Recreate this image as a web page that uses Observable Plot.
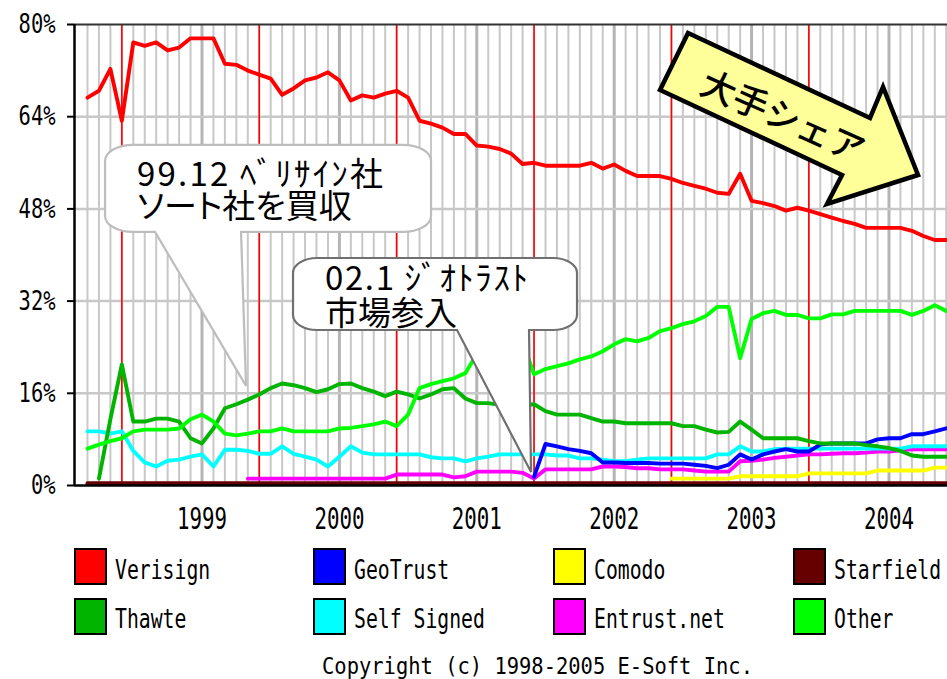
<!DOCTYPE html>
<html><head><meta charset="utf-8">
<script src="https://cdn.jsdelivr.net/npm/d3@7"></script>
<script src="https://cdn.jsdelivr.net/npm/@observablehq/plot@0.6"></script>
<style>
html,body{margin:0;padding:0;background:#fff;}
#wrap{width:947px;height:679px;overflow:hidden;background:#fff;}
#wrap svg{display:block;}
</style></head>
<body><div id="wrap"></div>
<script>
// ---- categories / labels ----
const names = ["Verisign","Thawte","GeoTrust","Self Signed","Comodo","Entrust.net","Starfield","Other"];
const colors = ["#ff0000","#00b400","#0000ff","#00ffff","#ffff00","#ff00ff","#660000","#00ff00"];
const months = d3.range(76); // monthly samples, index 0 = Mar 1998
const yearTicks = [10,22,34,46,58,70];
const yearLabels = ["1999","2000","2001","2002","2003","2004"];
const eventLines = [3,15,27,39,51,63];
const yTicks = [0,16,32,48,64,80];
const yGrid = [16,32,48,64];
const copyright = "Copyright (c) 1998-2005 E-Soft Inc.";

// ---- series values (% share) ----
const verisign = [67.3,68.5,72.3,63.3,76.9,76.3,76.9,75.5,76.0,77.6,
 77.6,77.6,73.2,73.0,72.0,71.3,70.6,67.8,68.9,70.3,
 70.8,71.7,70.3,66.8,67.7,67.3,68.0,68.5,67.3,63.3,
 62.8,62.1,61.0,61.0,59.0,58.8,58.4,57.6,55.8,56.0,
 55.5,55.5,55.5,55.5,56.0,55.0,55.7,54.6,53.7,53.7,
 53.7,53.2,52.5,52.0,51.5,50.8,50.6,54.1,49.4,49.0,
 48.5,47.7,48.2,47.7,47.1,46.5,45.9,45.4,44.7,44.7,
 44.7,44.7,44.2,43.3,42.6,42.6];
const thawte = [null,1.2,11.5,21.0,11.1,11.1,11.6,11.6,11.1,8.2,
 7.3,9.9,13.4,14.1,14.9,15.8,16.9,17.7,17.4,16.9,
 16.2,16.7,17.6,17.7,16.9,16.3,15.5,16.3,15.8,15.1,
 15.8,16.7,16.9,15.1,14.3,14.3,14.0,14.0,14.0,14.1,
 12.9,12.3,12.3,12.3,11.7,11.1,11.1,10.8,10.8,10.8,
 10.8,10.8,10.3,10.3,9.7,9.2,9.3,11.1,9.7,8.2,
 8.2,8.2,8.2,7.7,7.3,7.3,7.3,7.3,7.0,6.8,
 6.5,6.0,5.2,5.0,5.0,5.0];
const geotrust = [null,null,null,null,null,null,null,null,null,null,
 null,null,null,null,null,null,null,null,null,null,
 null,null,null,null,null,null,null,null,null,null,
 null,null,null,null,null,null,null,null,null,1.5,
 7.2,6.8,6.3,6.0,5.6,4.0,4.0,3.9,3.9,3.9,
 3.8,3.8,3.8,3.6,3.4,3.0,3.6,5.4,4.5,5.4,
 5.9,6.3,5.9,5.9,7.1,7.3,7.3,7.3,7.3,8.0,
 8.2,8.2,8.9,8.9,9.4,9.9];
const selfSigned = [9.4,9.4,9.0,9.4,6.0,4.0,3.3,4.3,4.5,5.0,
 5.4,3.3,6.2,6.2,6.0,5.5,5.5,6.8,5.5,5.0,
 4.5,3.3,5.0,6.8,5.7,5.4,5.4,5.4,5.4,5.4,
 4.9,4.7,4.7,4.2,4.7,5.0,5.4,5.4,5.4,5.4,
 5.4,5.2,5.2,4.7,4.7,4.5,4.2,4.2,4.5,4.7,
 4.7,4.7,4.7,4.7,4.7,5.4,5.4,6.8,5.9,5.9,
 6.3,6.4,6.4,6.4,6.4,6.4,6.4,6.4,6.4,6.4,
 6.4,6.4,6.8,6.8,6.8,6.8];
const comodo = [null,null,null,null,null,null,null,null,null,null,
 null,null,null,null,null,null,null,null,null,null,
 null,null,null,null,null,null,null,null,null,null,
 null,null,null,null,null,null,null,null,null,null,
 null,null,null,null,null,null,null,null,null,null,
 null,1.2,1.2,1.2,1.2,1.2,1.2,1.6,1.6,1.6,
 1.6,1.6,1.6,2.1,2.1,2.1,2.1,2.1,2.1,2.6,
 2.6,2.6,2.6,2.6,3.1,3.1];
const entrust = [null,null,null,null,null,null,null,null,null,null,
 null,null,null,null,1.2,1.2,1.2,1.2,1.2,1.2,
 1.2,1.2,1.2,1.2,1.2,1.2,1.2,1.9,1.9,1.9,
 1.9,1.9,1.4,1.6,2.4,2.4,2.4,2.4,2.2,1.2,
 2.8,2.8,2.8,2.8,2.8,3.3,3.3,3.2,3.0,3.0,
 2.8,2.8,2.8,2.6,2.4,2.4,2.4,4.2,4.3,4.5,
 4.8,5.0,5.2,5.4,5.4,5.5,5.6,5.6,5.7,5.9,
 5.9,6.1,6.3,6.3,6.3,6.3];
const starfield = [0.4,0.4,0.4,0.4,0.4,0.4,0.4,0.4,0.4,0.4,
 0.4,0.4,0.4,0.4,0.4,0.4,0.4,0.4,0.4,0.4,
 0.4,0.4,0.4,0.4,0.4,0.4,0.4,0.4,0.4,0.4,
 0.4,0.4,0.4,0.4,0.4,0.4,0.4,0.4,0.4,0.4,
 0.4,0.4,0.4,0.4,0.4,0.4,0.4,0.4,0.4,0.4,
 0.4,0.4,0.4,0.4,0.4,0.4,0.4,0.4,0.4,0.4,
 0.4,0.4,0.4,0.4,0.4,0.4,0.4,0.4,0.4,0.4,
 0.4,0.4,0.4,0.4,0.4,0.4];
const other = [6.4,7.1,7.7,8.2,9.4,9.7,9.7,9.7,9.9,11.5,
 12.3,11.1,9.0,8.7,9.0,9.4,9.4,9.9,9.4,9.4,
 9.4,9.4,9.9,10.0,10.3,10.6,11.1,10.3,12.3,16.9,
 17.6,18.1,18.6,19.5,22.8,25.0,26.0,26.0,25.0,19.3,
 20.2,20.7,21.2,21.9,22.4,23.3,24.5,25.4,25.0,25.6,
 26.8,27.3,28.0,28.5,29.4,31.0,31.0,22.1,28.9,29.9,
 30.3,29.6,29.6,29.0,29.0,29.7,29.7,30.3,30.3,30.3,
 30.3,30.3,29.6,30.3,31.3,30.3];

// ---- annotations (anchored in data space, shapes in px offsets) ----
const bubbleNotes = [
  {tip:[13.89,17.2], box:[-141,-241,185,-154], tail:[-91,-5], rx:28, ry:16, stroke:"#bdbdbd",
   lines:[{dx:-109, dy:-200, text:"99.12 ﾍﾞﾘｻｲﾝ社", len:246},
          {dx:-109, dy:-168, text:"ソート社を買収", palt:true}]},
  {tip:[38.78,2.26], box:[-238,-214,46,-142], tail:[-74,-2], rx:24, ry:15, stroke:"#707070",
   lines:[{dx:-206, dy:-182, text:"02.1 ｼﾞｵﾄﾗｽﾄ", len:203},
          {dx:-206, dy:-147, text:"市場参入"}]}
];
const arrowNote = {tip:[72.58,53.8], text:"大手シェア",
  pts:[[-230,-142],[-48,-57],[-35,-88],[0,0],[-91,29],[-76,0],[-258,-85]],
  textAt:[-135,-59], angle:24};

// ---- build table ----
const valuesBy = {"Verisign":verisign,"Thawte":thawte,"GeoTrust":geotrust,"Self Signed":selfSigned,
  "Comodo":comodo,"Entrust.net":entrust,"Starfield":starfield,"Other":other};
const drawOrder = ["Starfield","Comodo","Entrust.net","Self Signed","GeoTrust","Thawte","Other","Verisign"];
const rows = drawOrder.flatMap(name => valuesBy[name].map((v,i) => ({name, m: months[i], v})));

const xDomain = [-1.135, 75.11];
const mono = "DejaVu Sans Mono";

const chart = Plot.plot({
  width: 947, height: 540,
  marginLeft: 74, marginRight: 0, marginTop: 24, marginBottom: 55,
  style: {background: "white", fontFamily: mono, color: "black"},
  x: {domain: xDomain},
  y: {domain: [0, 80]},
  color: {domain: names, range: colors},
  marks: [
    Plot.ruleX(months, {stroke: "#c8c8c8", strokeWidth: 2}),
    Plot.ruleX(yearTicks, {stroke: "#b5b5b5", strokeWidth: 3}),
    Plot.ruleY(yGrid, {stroke: "#c8c8c8", strokeWidth: 2.5}),
    Plot.ruleX(eventLines, {stroke: "#ff0000", strokeWidth: 1.6}),
    Plot.line(rows, {x: "m", y: "v", z: "name", stroke: "name", strokeWidth: 3.9, strokeLinejoin: "round"}),
    Plot.ruleY([80], {stroke: "#333", strokeWidth: 2}),
    Plot.ruleY([0], {stroke: "black", strokeWidth: 2.5}),
    Plot.ruleX([xDomain[0]], {stroke: "black", strokeWidth: 2.5}),
    Plot.axisY(yTicks, {tickFormat: d => d + "%", tickSize: 7, tickPadding: 12, fontSize: 27,
      fontFamily: mono, strokeWidth: 2, label: null}),
    Plot.axisX(yearTicks, {tickFormat: d => yearLabels[yearTicks.indexOf(d)], tickSize: 0,
      tickPadding: 21, fontSize: 31, fontFamily: mono, label: null})
  ]
});

document.getElementById("wrap").appendChild(chart);

// condense pixel-font-like tick labels
const svg = d3.select(chart);
svg.selectAll('g[aria-label="y-axis tick label"] text').each(function(){
  this.setAttribute("textLength", 12.3 * this.textContent.length);
  this.setAttribute("lengthAdjust", "spacingAndGlyphs");
});
svg.selectAll('g[aria-label="x-axis tick label"] text').each(function(){
  this.setAttribute("textLength", 12.5 * this.textContent.length);
  this.setAttribute("lengthAdjust", "spacingAndGlyphs");
});

// ---- annotations ----
const sx = v => chart.scale("x").apply(v), sy = v => chart.scale("y").apply(v);
const ag = svg.append("g").attr("aria-label", "annotations").attr("text-anchor", "start");
const jp = "'Noto Sans CJK JP', 'Noto Sans CJK SC', sans-serif";

function bubblePath(px, py, b, t, rx, ry){
  const l = px + b[0], tp = py + b[1], r = px + b[2], bt = py + b[3];
  const t0 = px + t[0], t1 = px + t[1];
  return `M${l+rx},${tp}H${r-rx}A${rx},${ry} 0 0 1 ${r},${tp+ry}V${bt-ry}A${rx},${ry} 0 0 1 ${r-rx},${bt}` +
    `H${t1}L${px},${py}L${t0},${bt}H${l+rx}A${rx},${ry} 0 0 1 ${l},${bt-ry}V${tp+ry}A${rx},${ry} 0 0 1 ${l+rx},${tp}Z`;
}
for (const n of bubbleNotes) {
  const px = sx(n.tip[0]), py = sy(n.tip[1]);
  ag.append("path").attr("d", bubblePath(px, py, n.box, n.tail, n.rx, n.ry))
    .attr("fill", "white").attr("stroke", n.stroke).attr("stroke-width", 2.2);
  for (const ln of n.lines) {
    const t = ag.append("text").attr("x", px + ln.dx).attr("y", py + ln.dy)
      .attr("text-anchor", "start")
      .attr("font-family", jp).attr("font-size", 33).attr("fill", "black").text(ln.text);
    if (ln.palt) t.style("font-feature-settings", '"palt"');
    if (ln.len) t.attr("textLength", ln.len).attr("lengthAdjust", "spacing");
  }
}
{
  const px = sx(arrowNote.tip[0]), py = sy(arrowNote.tip[1]);
  ag.append("polygon").attr("points", arrowNote.pts.map(([dx,dy]) => `${px+dx},${py+dy}`).join(" "))
    .attr("fill", "#ffff99").attr("stroke", "black").attr("stroke-width", 4.5).attr("stroke-linejoin", "miter");
  ag.append("text")
    .attr("transform", `translate(${px+arrowNote.textAt[0]},${py+arrowNote.textAt[1]}) rotate(${arrowNote.angle})`)
    .attr("text-anchor", "middle").attr("dy", "0.38em")
    .attr("font-family", jp).attr("font-size", 35).attr("font-weight", 500).attr("fill", "black")
    .text(arrowNote.text);
}

// ---- legend (below the plot SVG) ----
const colX = [74, 313, 553, 793];
const rowTop = [8, 58];
const rowBase = [39, 88];
const leg = d3.create("svg").attr("width", 947).attr("height", 139)
  .attr("font-family", mono).style("background", "white");
names.forEach((name, k) => {
  const c = Math.floor(k / 2), r = k % 2;
  leg.append("rect").attr("x", colX[c] + 1).attr("y", rowTop[r] + 1).attr("width", 31).attr("height", 35)
    .attr("fill", colors[k]).attr("stroke", "black").attr("stroke-width", 2);
  leg.append("text").attr("x", colX[c] + 41).attr("y", rowBase[r]).attr("font-size", 26)
    .attr("textLength", 11.9 * name.length).attr("lengthAdjust", "spacingAndGlyphs").text(name);
});
leg.append("text").attr("x", 322).attr("y", 134).attr("font-size", 23)
  .attr("textLength", 431).attr("lengthAdjust", "spacingAndGlyphs").text(copyright);
document.getElementById("wrap").appendChild(leg.node());
</script>
</body></html>
